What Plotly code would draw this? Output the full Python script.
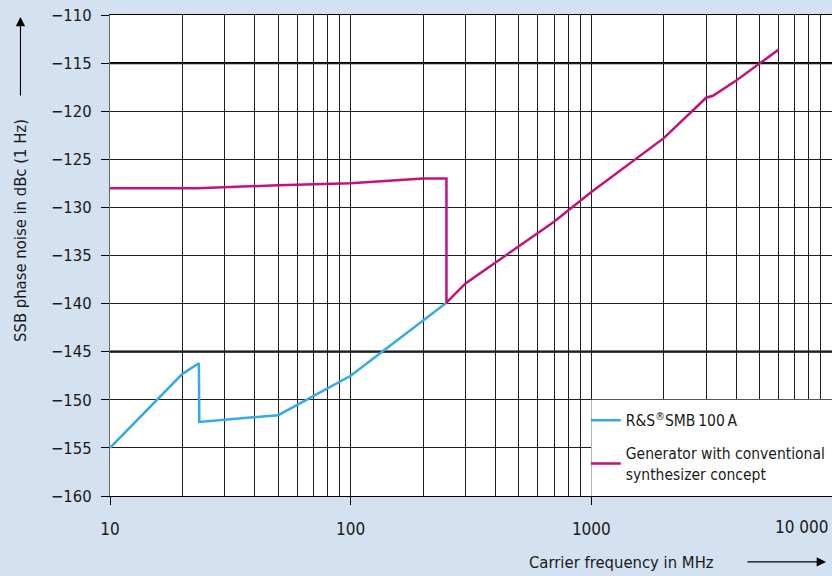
import plotly.graph_objects as go

# ---- data ----
smb_freq = [10, 20, 23.4, 23.5, 50, 100, 250]
smb_noise = [-155, -147.3, -146.2, -152.3, -151.6, -147.5, -139.9]

conv_freq = [10, 23, 50, 100, 200, 250, 250, 300, 700, 1000, 2000, 3000, 3200, 4000, 6000]
conv_noise = [-128, -128, -127.7, -127.5, -127, -127, -139.9, -137.9, -131.5, -128.4,
              -122.8, -118.6, -118.4, -116.8, -113.6]

x_tick_vals = [10, 100, 1000]
x_tick_text = ["10", "100", "1000"]
x_last_label = "10 000"
y_tick_vals = [-160, -155, -150, -145, -140, -135, -130, -125, -120, -115, -110]
y_tick_text = ["\u2212" + str(abs(v)) for v in y_tick_vals]
minor_vals = [m * d for d in (10, 100, 1000) for m in range(2, 10)]

names = ["R&S<sup>®</sup>SMB\u2009100\u2009A",
         "Generator with conventional<br>synthesizer concept"]

FONT = "Liberation Sans Narrow, DejaVu Sans Condensed, Roboto, sans-serif"
BLUE = "#36a9e6"
MAGENTA = "#c2127e"
BG = "#d4e1f0"
GRID = "#1e1e1e"
TXT = "#1a1a1a"

fig = go.Figure()
fig.add_trace(go.Scatter(x=smb_freq, y=smb_noise, mode="lines", name=names[0],
                         legendgroup="a", line=dict(color=BLUE, width=2.5)))
fig.add_trace(go.Scatter(x=conv_freq, y=conv_noise, mode="lines", name=names[1],
                         legendgroup="b", line=dict(color=MAGENTA, width=2.5)))

# white box behind legend (covers the grid in that corner)
fig.add_shape(type="rect", xref="x", yref="y", x0=1000, x1=10000, y0=-160, y1=-150,
              fillcolor="white", line=dict(width=0), layer="above")
# thicker horizontal rules
for yy in (-115, -145):
    fig.add_shape(type="line", xref="paper", yref="y", x0=0, x1=1, y0=yy, y1=yy,
                  line=dict(color="black", width=2.2), layer="below")

fig.update_layout(
    width=832, height=576,
    margin=dict(l=110, r=0, t=15, b=80, autoexpand=False),
    paper_bgcolor=BG, plot_bgcolor="white",
    font=dict(family=FONT, size=17, color=TXT),
    showlegend=True,
    legend=dict(x=0.659, y=0.192, xanchor="left", yanchor="top",
                bgcolor="rgba(0,0,0,0)", font=dict(size=15.5, family=FONT, color=TXT),
                traceorder="grouped", tracegroupgap=10, itemwidth=30),
)

fig.update_xaxes(type="log", range=[1, 4],
                 tickmode="array", tickvals=x_tick_vals, ticktext=x_tick_text,
                 ticks="outside", ticklen=8, tickwidth=1.2, tickcolor="black",
                 showgrid=True, gridcolor=GRID, gridwidth=1,
                 minor=dict(tickmode="array", tickvals=minor_vals, showgrid=True,
                            gridcolor=GRID, gridwidth=1, ticks=""),
                 showline=True, linecolor="black", linewidth=1.2, mirror=True,
                 tickfont=dict(size=17), ticklabelstandoff=9, zeroline=False)
fig.update_yaxes(range=[-160, -110], tickmode="array", tickvals=y_tick_vals,
                 ticktext=y_tick_text, ticks="outside", ticklen=8, tickwidth=1.2,
                 tickcolor="black", showgrid=True, gridcolor=GRID, gridwidth=1,
                 showline=True, linecolor="#666", linewidth=1,
                 tickfont=dict(size=16.5), ticklabelstandoff=6, zeroline=False)

# last x tick label (right-aligned at the plot edge)
fig.add_annotation(x=4, y=0, xref="x", yref="paper", text=x_last_label, showarrow=False,
                   xanchor="right", yanchor="top", yshift=-19, xshift=-1,
                   font=dict(size=17, family=FONT))

# axis titles with arrows
fig.add_annotation(x=-0.1247, y=0.553, xref="paper", yref="paper",
                   xanchor="center", yanchor="middle",
                   text="SSB phase noise in dBc (1 Hz)", showarrow=False, textangle=-90,
                   font=dict(size=16.5, family=FONT, color=TXT))
fig.add_annotation(x=-0.124, y=0.996, xref="paper", yref="paper", text="",
                   showarrow=True, ax=0, ay=80, arrowhead=2, arrowsize=1.7,
                   arrowwidth=1.1, arrowcolor="black")
fig.add_annotation(x=0.708, y=-0.139, xref="paper", yref="paper",
                   xanchor="center", yanchor="middle",
                   text="Carrier frequency in MHz", showarrow=False,
                   font=dict(size=16.5, family=FONT, color=TXT))
fig.add_annotation(x=0.9917, y=-0.137, xref="paper", yref="paper", text="",
                   showarrow=True, ax=-80, ay=0, arrowhead=2, arrowsize=1.7,
                   arrowwidth=1.1, arrowcolor="black")

fig.write_html("out.html", config={"displayModeBar": False},
               post_script="document.body.style.margin='0';document.body.style.overflow='hidden';")
